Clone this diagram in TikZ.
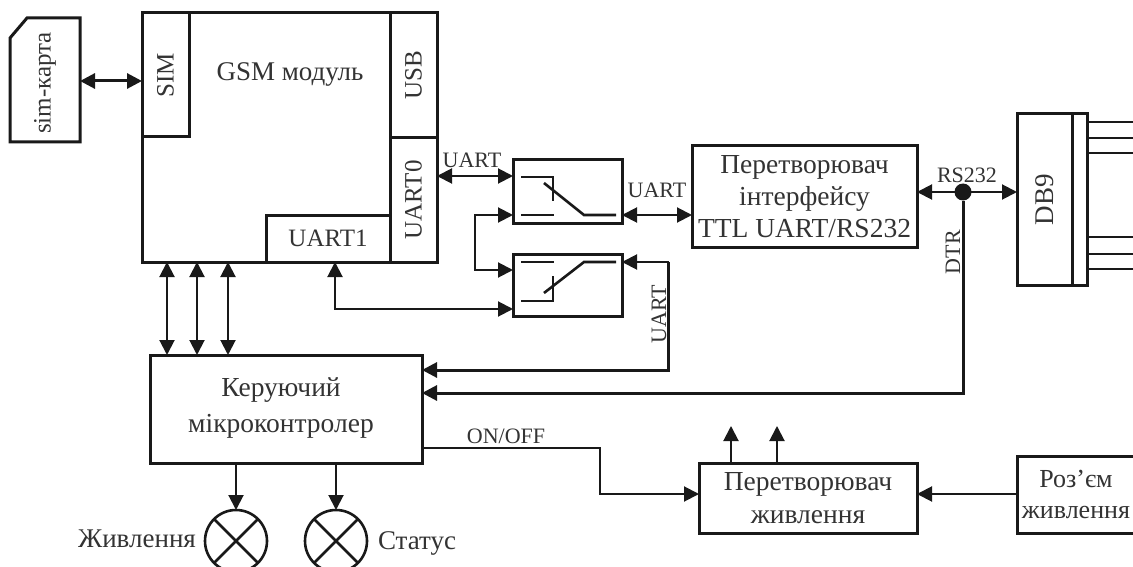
\documentclass[tikz,border=0pt]{standalone}
\usepackage{fontspec}
\usepackage{graphicx}
\setmainfont{Liberation Serif}
\usetikzlibrary{arrows.meta,calc}
\definecolor{ink}{gray}{0.1}
\definecolor{txt}{gray}{0.2}
\newcommand{\fs}[1]{\fontsize{#1}{#1}\selectfont}
\newcommand{\vtext}[1]{\rotatebox{90}{#1}}
\tikzset{
  x=1pt,y=-1pt,
  box/.style={draw=ink,line width=3pt,fill=none,inner sep=0pt,outer sep=0pt,align=center,text=txt,font=\fs{25},anchor=north west},
  bigtext/.style={font=\fs{27.5}},
  wire/.style={draw=ink,line width=2pt},
  bus/.style={draw=ink,line width=3pt},
  both/.style={{Triangle[length=15pt,width=15pt]}-{Triangle[length=15pt,width=15pt]}},
  to1/.style={-{Triangle[length=15pt,width=15pt]}},
  lab/.style={text=txt,font=\fs{22},inner sep=0pt,outer sep=0pt,align=center},
  sw/.style={draw=ink,line width=2.6pt},
  lamp/.style={circle,draw=ink,line width=2.6pt,minimum size=62pt,inner sep=0pt,outer sep=0pt},
}
\begin{document}
\begin{tikzpicture}
\useasboundingbox (0,0) rectangle (1133,567);
\clip (0,0) rectangle (1133,567);
\fill[white] (0,0) rectangle (1133,567);
% sim card
\coordinate (cardport) at (80,81);
\draw[ink,line width=3pt] (10,38) -- (27,18) -- (80,18) -- (80,142) -- (10,142) -- cycle;
\node[lab,font=\fs{25},rotate=90] (card) at (45,83) {sim-карта};
% GSM
\node[box,minimum width=295pt,minimum height=249pt] (gsm) at (142,13) {};
\node[box,minimum width=47pt,minimum height=124pt] (sim) at (142,13) {\vtext{SIM}};
\node[box,minimum width=47pt,minimum height=125pt] (usb) at (390,13) {\vtext{USB}};
\node[box,minimum width=47pt,minimum height=124pt] (uart0) at (390,138) {\vtext{UART0}};
\node[box,minimum width=124pt,minimum height=47pt] (uart1) at (266,215) {UART1};
\node[lab,font=\fs{27}] (gsmt) at (290,74) {GSM модуль};
% switches
\node[box,minimum width=109pt,minimum height=63pt] (swa) at (513,160) {};
\node[box,minimum width=109pt,minimum height=62pt] (swb) at (513,254) {};
\draw[sw] (521,177) -- (553,177) -- (553,201);
\draw[sw] (521,215) -- (554,215);
\draw[sw] (544,183) -- (584,215) -- (616,215);
\draw[sw] (521,262) -- (554,262);
\draw[sw] (616,262) -- (584,262) -- (544,293);
\draw[sw] (553,276) -- (553,301) -- (521,301);
% converter
\node[box,bigtext,minimum width=225pt,minimum height=101pt] (conv) at (692,146) {Перетворювач\\[5pt]інтерфейсу\\[4pt]TTL UART/RS232};
% DB9
\node[box,font=\fs{27},minimum width=55pt,minimum height=171pt] (db) at (1017,114) {\vtext{DB9}};
\node[box,minimum width=15pt,minimum height=171pt] (dbb) at (1072,114) {};
\foreach \yy in {122,138,153,237,254,269} \draw[ink,line width=2.6pt] (dbb.east |- 0,\yy) -- (1133,\yy);
% micro
\node[box,minimum width=272pt,minimum height=108pt] (mcu) at (150,355) {};
\node[lab,font=\fs{27.5}] (mcut) at (281,408) {Керуючий\\[8pt]мікроконтролер};
% power
\node[box,bigtext,minimum width=218pt,minimum height=70pt] (pwr) at (699,463) {Перетворювач\\[6pt]живлення};
\node[box,font=\fs{26},minimum width=118pt,minimum height=77pt] (jack) at (1017,456) {Роз’єм\\[5pt]живлення};
% lamps
\node[lamp] (la) at (236,541) {};
\node[lamp] (lb) at (336,541) {};
\foreach \n in {la,lb} {
  \draw[sw] (\n.45) -- (\n.225);
  \draw[sw] (\n.135) -- (\n.315);
}
% dot
\node[circle,fill=ink,minimum size=17pt,inner sep=0pt,outer sep=0pt] (dot) at (963,192) {};
% connectors
\draw[bus,both] (cardport) -- (sim.west |- cardport);
\draw[wire,both] (uart0.east |- 0,176) -- (swa.west |- 0,176);
\draw[wire,both] (swa.east |- 0,215) -- (conv.west |- 0,215);
\draw[wire,both] (conv.east |- 0,192) -- (db.west |- 0,192);
\draw[wire,both] (swa.west |- 0,215) -- (475,215) -- (475,270) -- (swb.west |- 0,270);
\draw[wire,both] ($(uart1.south)+(7,0)$) -- (335,309) -- (swb.west |- 0,309);
\draw[bus,to1] (668,262) -- (668,370) -- (mcu.east |- 0,370);
\draw[wire,to1] (669,262) -- (swb.east |- 0,262);
\draw[bus,to1] (dot) -- (963,393) -- (mcu.east |- 0,393);
\foreach \xx in {167,197,228} \draw[wire,both] (\xx,262) -- (\xx,355);
\draw[wire,to1] (mcu.east |- 0,448) -- (600,448) -- (600,494) -- (pwr.west |- 0,494);
\draw[wire,to1] (jack.west |- 0,494) -- (pwr.east |- 0,494);
\draw[wire,to1] (731,463) -- (731,426);
\draw[wire,to1] (777,463) -- (777,426);
\draw[wire,to1] (mcu.south -| la) -- (la.north);
\draw[wire,to1] (mcu.south -| lb) -- (lb.north);
% labels
\node[lab] (l1) at (472,160) {UART};
\node[lab] (l2) at (657,190) {UART};
\node[lab,rotate=90] (l3) at (659,314) {UART};
\node[lab] (l4) at (967,175) {RS232};
\node[lab,rotate=90] (l5) at (953,252) {DTR};
\node[lab] (l6) at (506,436) {ON/OFF};
\node[lab,font=\fs{27}] (l7) at (137,539) {Живлення};
\node[lab,font=\fs{27}] (l8) at (417,543) {Статус};
\end{tikzpicture}
\end{document}
